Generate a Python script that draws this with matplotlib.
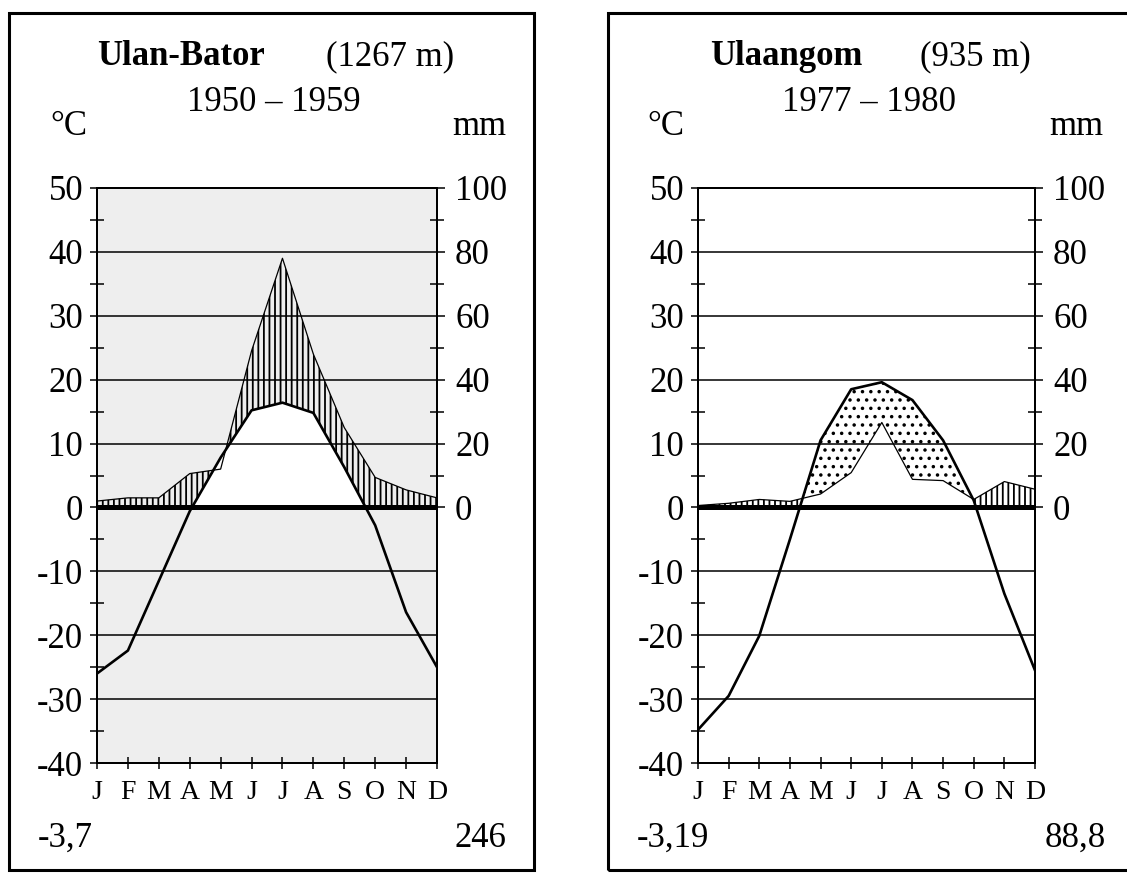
import matplotlib.pyplot as plt
import numpy as np
from matplotlib.patches import Rectangle

plt.rcParams['font.family'] = ['Liberation Serif', 'DejaVu Serif']
plt.rcParams['hatch.linewidth'] = 1.3

months = ['J', 'F', 'M', 'A', 'M', 'J', 'J', 'A', 'S', 'O', 'N', 'D']

# Ulan-Bator 1950-1959, mean temperature (C) and precipitation (mm)
ub_temp = [-26.0, -22.4, -11.5, -0.6, 7.8, 15.2, 16.4, 14.8, 6.3, -2.8, -16.4, -25.0]
ub_prec = [2.0, 3.0, 3.0, 10.6, 12.0, 49.0, 78.0, 48.0, 25.0, 9.4, 5.5, 3.0]

# Ulaangom 1977-1980
ul_temp = [-34.8, -29.5, -20.1, -5.0, 10.5, 18.5, 19.6, 16.8, 10.5, 1.1, -13.5, -25.5]
ul_prec = [0.6, 1.3, 2.5, 1.9, 4.2, 10.9, 26.6, 8.8, 8.4, 2.5, 8.1, 5.7]

temp_ticks = [-40, -30, -20, -10, 0, 10, 20, 30, 40, 50]
prec_ticks = [0, 20, 40, 60, 80, 100]

W, H = 1127, 873


def fx(px):
    return px / W


def fy(py):
    return 1 - py / H


fig = plt.figure(figsize=(W / 100, H / 100), dpi=100)


def panel(left_px, right_px, temp, prec, bg, dots):
    ax = fig.add_axes([fx(left_px), fy(763), (right_px - left_px) / W, (763 - 188) / H])
    x = np.arange(12)
    t = np.array(temp)
    p = np.array(prec) / 2.0  # Walter-Lieth: 10 C = 20 mm
    ax.set_facecolor(bg)
    ax.set_xlim(0, 11)
    ax.set_ylim(-40, 50)

    # humid months: hatch down to zero, then cover the part below the temperature
    ax.fill_between(x, 0, p, facecolor='none', edgecolor='black', hatch='|||',
                    linewidth=0, zorder=1)
    ax.fill_between(x, 0, t, where=t > 0, interpolate=True, facecolor='white',
                    linewidth=0, zorder=2)
    if dots:
        ax.fill_between(x, p, t, where=t > p, interpolate=True, facecolor='none',
                        edgecolor='black', hatch='..', linewidth=0, zorder=3)

    for v in [-30, -20, -10, 10, 20, 30, 40]:
        ax.axhline(v, color='black', lw=1.1, zorder=4)
    ax.axhline(0, color='black', lw=3.6, zorder=6)
    ax.plot(x, p, color='black', lw=0.9, zorder=5)
    ax.plot(x, t, color='black', lw=1.9, zorder=7)

    for s in ax.spines.values():
        s.set_linewidth(1.4)
        s.set_zorder(8)

    ax.set_xticks(x)
    ax.set_xticklabels(months)
    ax.set_yticks(temp_ticks)
    ax.set_yticklabels([str(v) for v in temp_ticks])
    ax.set_yticks(np.arange(-35, 50, 10), minor=True)
    ax.tick_params(axis='x', direction='inout', length=9, width=1.1,
                   labelsize=20, pad=8)
    ax.tick_params(axis='y', which='major', direction='out', length=5, width=1.1,
                   labelsize=25, pad=5)
    ax.tick_params(axis='y', which='minor', direction='inout', length=10, width=1.1)

    ax2 = ax.twinx()
    ax2.set_ylim(-80, 100)
    ax2.set_yticks(prec_ticks)
    ax2.set_yticklabels([str(v) for v in prec_ticks])
    ax2.set_yticks(np.arange(10, 100, 20), minor=True)
    ax2.tick_params(axis='y', which='major', direction='out', length=6, width=1.1,
                    labelsize=25, pad=7)
    ax2.tick_params(axis='y', which='minor', direction='inout', length=10, width=1.1)
    for s in ax2.spines.values():
        s.set_linewidth(1.4)
    return ax


panel(97, 437, ub_temp, ub_prec, '#eeeeee', False)
panel(698, 1035, ul_temp, ul_prec, 'white', True)

fs = 25
# left panel texts
fig.text(fx(97), fy(65), 'Ulan-Bator', fontsize=fs, fontweight='bold', va='baseline')
fig.text(fx(326), fy(65), '(1267 m)', fontsize=fs, va='baseline')
fig.text(fx(274), fy(111), '1950 – 1959', fontsize=fs, ha='center', va='baseline')
fig.text(fx(50), fy(135), '°C', fontsize=fs, va='baseline')
fig.text(fx(506), fy(135), 'mm', fontsize=fs, ha='right', va='baseline')
fig.text(fx(38), fy(847), '-3,7', fontsize=fs, va='baseline')
fig.text(fx(506), fy(847), '246', fontsize=fs, ha='right', va='baseline')

# right panel texts
fig.text(fx(710), fy(65), 'Ulaangom', fontsize=fs, fontweight='bold', va='baseline')
fig.text(fx(920), fy(65), '(935 m)', fontsize=fs, va='baseline')
fig.text(fx(869), fy(111), '1977 – 1980', fontsize=fs, ha='center', va='baseline')
fig.text(fx(647), fy(135), '°C', fontsize=fs, va='baseline')
fig.text(fx(1103), fy(135), 'mm', fontsize=fs, ha='right', va='baseline')
fig.text(fx(637), fy(847), '-3,19', fontsize=fs, va='baseline')
fig.text(fx(1106), fy(847), '88,8', fontsize=fs, ha='right', va='baseline')

# frames round the two diagrams
fig.add_artist(Rectangle((fx(9), fy(870)), fx(534 - 9), (870 - 13) / H,
                         transform=fig.transFigure, fill=False, lw=2.2, ec='black'))
fig.add_artist(Rectangle((fx(608), fy(870)), fx(1140 - 608), (870 - 13) / H,
                         transform=fig.transFigure, fill=False, lw=2.2, ec='black'))

fig.savefig('out.png', dpi=100)
